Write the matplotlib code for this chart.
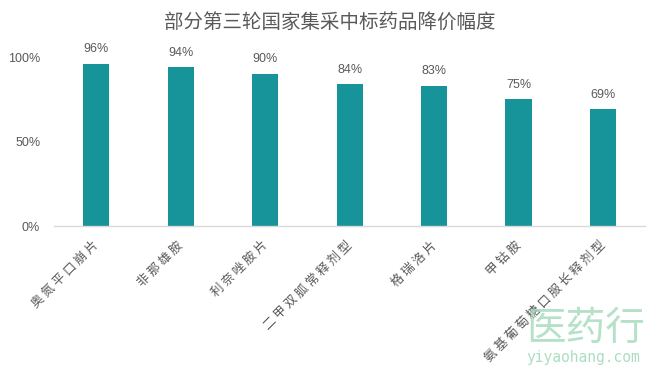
import matplotlib
matplotlib.use("Agg")
import matplotlib.pyplot as plt
import matplotlib.transforms as mtransforms
import numpy as np

plt.rcParams['font.family'] = ['Liberation Sans', 'Noto Sans CJK SC', 'DejaVu Sans']

# data
drugs = ["奥氮平口崩片", "非那雄胺", "利奈唑胺片", "二甲双胍常释剂型",
         "格瑞洛片", "甲钴胺", "氨基葡萄糖口服长释剂型"]
price_drop = [0.96, 0.94, 0.90, 0.84, 0.83, 0.75, 0.69]
yticks = [0, 0.5, 1.0]
ytick_labels = ["0%", "50%", "100%"]

bar_color = "#17939a"
text_gray = "#595959"
cjk = ['Noto Sans CJK SC', 'DejaVu Sans']

fig = plt.figure(figsize=(6.59, 3.77), dpi=100)
ax = fig.add_axes([0.082, 0.4005, 0.897, 0.493])

x = np.arange(len(drugs))
ax.bar(x, price_drop, width=0.31, color=bar_color, zorder=2)

# value labels above each bar
for xi, v in zip(x, price_drop):
    ax.text(xi, v + 0.05, f"{v*100:.0f}%", ha="center", va="bottom",
            fontsize=9, color=text_gray)

ax.set_xlim(-0.5, len(drugs) - 0.5)
ax.set_ylim(0, 1.1)
ax.set_yticks(yticks)
ax.set_yticklabels(ytick_labels, fontsize=9, color=text_gray)
ax.set_xticks(x)
# spaced-out characters, like the original
spaced = [" ".join(list(d)) for d in drugs]
ax.set_xticklabels(spaced, rotation=45, ha="right", rotation_mode="anchor",
                   fontsize=9, color=text_gray, family=cjk)
ax.tick_params(axis="both", length=0)
ax.tick_params(axis="x", pad=9)
ax.tick_params(axis="y", pad=10)
# nudge the rotated labels a little to the left
shift = mtransforms.ScaledTranslation(-4 / 100, 0, fig.dpi_scale_trans)
for lab in ax.get_xticklabels():
    lab.set_transform(lab.get_transform() + shift)

for side in ["top", "right", "left"]:
    ax.spines[side].set_visible(False)
ax.spines["bottom"].set_color("#d9d9d9")
ax.spines["bottom"].set_linewidth(1.0)

fig.text(0.501, 0.942, "部分第三轮国家集采中标药品降价幅度", ha="center", va="center",
         fontsize=14, color=text_gray, family=cjk)

# watermark in the lower right corner
fig.text(0.888, 0.127, "医药行", ha="center", va="center", fontsize=28.5,
         color="#a3dabb", alpha=0.8, family=cjk)
fig.text(0.885, 0.053, "yiyaohang.com", ha="center", va="center", fontsize=10.5,
         color="#a3dabb", alpha=0.9, family=['DejaVu Sans Mono'])

fig.savefig("out.png", dpi=100)
